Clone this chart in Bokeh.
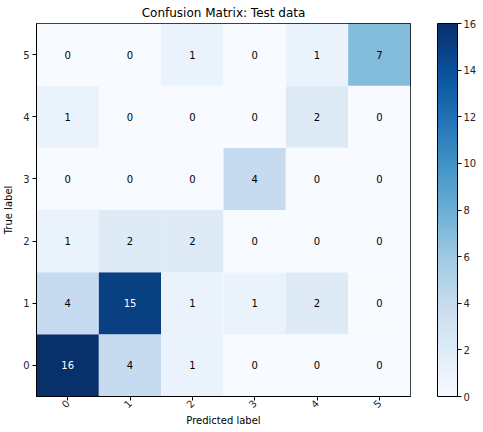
import math
from bokeh.plotting import figure
from bokeh.models import (Range1d, LinearColorMapper, ColorBar, FixedTicker,
                          ColumnDataSource)
from bokeh.palettes import Blues256
from bokeh.core.properties import value
from bokeh.embed import file_html
from bokeh.resources import INLINE

classes = ["0", "1", "2", "3", "4", "5"]
# rows: true label 0..5, columns: predicted 0..5
row0 = [16, 4, 1, 0, 0, 0]
row1 = [4, 15, 1, 1, 2, 0]
row2 = [1, 2, 2, 0, 0, 0]
row3 = [0, 0, 0, 4, 0, 0]
row4 = [1, 0, 0, 0, 2, 0]
row5 = [0, 0, 1, 0, 1, 7]
matrix = [row0, row1, row2, row3, row4, row5]
cbar_ticks = [0, 2, 4, 6, 8, 10, 12, 14, 16]

xs, ys, vals, labels, tcol = [], [], [], [], []
vmax = max(max(r) for r in matrix)
for i, r in enumerate(matrix):
    for j, v in enumerate(r):
        xs.append(j)
        ys.append(i)
        vals.append(v)
        labels.append(str(v))
        tcol.append("white" if v > vmax / 2 else "black")
src = ColumnDataSource(dict(x=xs, y=ys, v=vals, t=labels, c=tcol))

FONT = "DejaVu Sans"
FH = 373
mapper = LinearColorMapper(palette=list(Blues256[::-1]), low=0, high=16)

p = figure(frame_width=374, frame_height=FH,
           x_range=Range1d(-0.5, 5.5), y_range=Range1d(-0.5, 5.5),
           output_backend="svg", toolbar_location=None,
           min_border_left=0, min_border_right=0, min_border_top=0, min_border_bottom=0)
p.title.text = "Confusion Matrix: Test data"
p.title.align = "center"
p.title.text_font = FONT
p.title.text_font_size = "12px"
p.title.text_font_style = "normal"
p.title.text_color = "black"
p.title.standoff = 7
p.title.offset = 0

p.rect(x="x", y="y", width=1, height=1, source=src,
       fill_color={"field": "v", "transform": mapper}, line_color=None)
p.text(x="x", y="y", text="t", source=src, text_color="c",
       text_align="center", text_baseline="middle",
       text_font=value(FONT), text_font_size="10px")

p.xgrid.visible = False
p.ygrid.visible = False
p.outline_line_color = "black"
p.outline_line_width = 1
p.outline_line_alpha = 1

for ax in (p.xaxis[0], p.yaxis[0]):
    ax.ticker = FixedTicker(ticks=[0, 1, 2, 3, 4, 5])
    ax.major_label_overrides = {i: classes[i] for i in range(6)}
    ax.minor_tick_line_color = None
    ax.major_tick_in = 0
    ax.major_tick_out = 4
    ax.major_label_text_font = FONT
    ax.major_label_text_font_size = "10px"
    ax.major_label_text_color = "#262626"
    ax.axis_label_text_font = FONT
    ax.axis_label_text_font_size = "10px"
    ax.axis_label_text_font_style = "normal"
    ax.axis_label_text_color = "black"
    ax.axis_line_color = "black"
    ax.major_tick_line_color = "black"

p.xaxis.axis_label = "Predicted label"
p.yaxis.axis_label = "True label"
p.xaxis.major_label_orientation = math.pi / 4
p.xaxis.axis_label_standoff = 0
p.yaxis.axis_label_standoff = 6
p.yaxis.major_label_standoff = 3
p.xaxis.major_label_standoff = 1

cb = ColorBar(color_mapper=mapper, ticker=FixedTicker(ticks=cbar_ticks),
              width=20, height=FH, padding=0, margin=0,
              major_tick_in=0, major_tick_out=4, major_tick_line_color="black",
              bar_line_color="black", bar_line_width=1,
              label_standoff=2, major_label_text_font=FONT,
              major_label_text_font_size="10px", major_label_text_color="#262626",
              location=(27, 0))
p.add_layout(cb, "right")

open("out.html", "w").write(file_html(p, INLINE))
